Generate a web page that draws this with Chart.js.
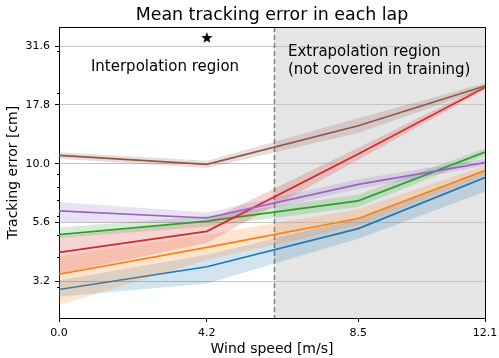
<!DOCTYPE html>
<html lang="en">
  <head>
    <meta charset="UTF-8" />
    <title>Mean tracking error in each lap</title>
    <script src="https://cdn.jsdelivr.net/npm/chart.js"></script>
    <style>
      body {
        margin: 0;
        background: #fff;
      }
      #wrap {
        width: 499px;
        height: 358px;
      }
    </style>
  </head>
  <body>
    <div id="wrap"><canvas id="chart" width="499" height="358"></canvas></div>

    <script>
      // wind speeds (x) and tick labels
      const windSpeed = [0, 4.2, 8.5, 12.1];
      const xTickLabels = ["0.0", "4.2", "8.5", "12.1"];
      const yTickValues = [3.162, 5.623, 10, 17.78, 31.62];
      const yTickLabels = ["3.2", "5.6", "10.0", "17.8", "31.6"];
      const yMinorTicks = [3, 4, 5, 6, 7, 8, 9, 20, 30];

      // mean tracking error per lap + spread band
      const blueMean = [2.92, 3.65, 5.3, 8.73];
      const blueLow = [2.72, 3.1, 4.8, 7.6];
      const blueHigh = [3.2, 4.1, 5.85, 9.4];

      const orangeMean = [3.39, 4.41, 5.85, 9.35];
      const orangeLow = [2.51, 3.9, 5.45, 8.9];
      const orangeHigh = [4.05, 5.0, 6.4, 9.8];

      const greenMean = [5.0, 5.7, 6.95, 11.2];
      const greenLow = [4.85, 5.4, 6.55, 10.8];
      const greenHigh = [5.36, 6.0, 7.4, 11.6];

      const redMean = [4.2, 5.16, 11.0, 21.1];
      const redLow = [3.4, 4.6, 10.4, 20.6];
      const redHigh = [4.9, 5.7, 11.7, 21.6];

      const purpleMean = [6.3, 5.88, 8.17, 10.1];
      const purpleLow = [5.65, 5.6, 7.8, 9.8];
      const purpleHigh = [6.87, 6.2, 8.6, 10.5];

      const brownMean = [10.84, 9.94, 14.5, 21.4];
      const brownLow = [10.5, 9.6, 13.5, 20.8];
      const brownHigh = [11.2, 10.3, 15.6, 22.0];

      const extrapStart = 6.1;
      const extrapEnd = 12.1;
      const starPoint = [{ x: 4.2, y: 34.2 }];

      const series = [
        { mean: blueMean, low: blueLow, high: blueHigh, rgb: "31,119,180" },
        { mean: orangeMean, low: orangeLow, high: orangeHigh, rgb: "255,127,14" },
        { mean: greenMean, low: greenLow, high: greenHigh, rgb: "44,160,44" },
        { mean: redMean, low: redLow, high: redHigh, rgb: "214,39,40" },
        { mean: purpleMean, low: purpleLow, high: purpleHigh, rgb: "148,103,189" },
        { mean: brownMean, low: brownLow, high: brownHigh, rgb: "140,86,75" },
      ];

      const FONT = "'DejaVu Sans', sans-serif";
      Chart.defaults.font.family = FONT;
      Chart.defaults.color = "#000";

      const pts = (arr) => arr.map((v, i) => ({ x: windSpeed[i], y: v }));

      // black filled star for the marker
      function makeStar(r) {
        const c = document.createElement("canvas");
        c.width = c.height = r * 2 + 2;
        const g = c.getContext("2d");
        g.beginPath();
        for (let i = 0; i < 10; i++) {
          const rad = i % 2 === 0 ? r : r * 0.4;
          const a = -Math.PI / 2 + (i * Math.PI) / 5;
          g.lineTo(r + 1 + rad * Math.cos(a), r + 1 + rad * Math.sin(a));
        }
        g.closePath();
        g.fillStyle = "#000";
        g.fill();
        return c;
      }

      const datasets = [];
      series.forEach((s, k) => {
        const base = 100 - k * 10;
        datasets.push({
          data: pts(s.low),
          borderWidth: 0,
          pointRadius: 0,
          fill: false,
          order: base,
        });
        datasets.push({
          data: pts(s.high),
          borderWidth: 0,
          pointRadius: 0,
          backgroundColor: `rgba(${s.rgb},0.2)`,
          fill: "-1",
          order: base,
        });
        datasets.push({
          data: pts(s.mean),
          borderColor: `rgb(${s.rgb})`,
          borderWidth: 1.7,
          pointRadius: 0,
          fill: false,
          order: base - 1,
        });
      });
      datasets.push({
        data: starPoint,
        showLine: false,
        pointStyle: makeStar(6),
        pointRadius: 6,
        order: 0,
      });

      const decor = {
        id: "decor",
        beforeDraw(chart) {
          const { ctx, chartArea: a, scales } = chart;
          const x0 = scales.x.getPixelForValue(extrapStart);
          const x1 = scales.x.getPixelForValue(extrapEnd);
          ctx.save();
          ctx.fillStyle = "#e5e5e5";
          ctx.fillRect(x0, a.top, x1 - x0, a.bottom - a.top);
          ctx.restore();
        },
        beforeDatasetsDraw(chart) {
          const { ctx, chartArea: a, scales } = chart;
          const xd = Math.round(scales.x.getPixelForValue(extrapStart)) + 0.5;
          ctx.save();
          ctx.strokeStyle = "#7f7f7f";
          ctx.lineWidth = 1.5;
          ctx.setLineDash([5, 3]);
          ctx.beginPath();
          ctx.moveTo(xd, a.top);
          ctx.lineTo(xd, a.bottom);
          ctx.stroke();
          ctx.restore();
        },
        afterDraw(chart) {
          const { ctx, chartArea: a, scales } = chart;
          ctx.save();
          // top and right spines
          ctx.strokeStyle = "#000";
          ctx.lineWidth = 1;
          ctx.beginPath();
          ctx.moveTo(a.left, a.top + 0.5);
          ctx.lineTo(a.right, a.top + 0.5);
          ctx.moveTo(a.right + 0.5, a.top);
          ctx.lineTo(a.right + 0.5, a.bottom);
          ctx.stroke();
          // minor ticks on the log axis
          ctx.beginPath();
          yMinorTicks.forEach((v) => {
            const y = Math.round(scales.y.getPixelForValue(v)) + 0.5;
            ctx.moveTo(a.left, y);
            ctx.lineTo(a.left - 2, y);
          });
          ctx.stroke();

          // title + region labels
          ctx.fillStyle = "#000";
          ctx.textBaseline = "alphabetic";
          ctx.textAlign = "center";
          ctx.font = `17.4px ${FONT}`;
          ctx.fillText("Mean tracking error in each lap", (a.left + a.right) / 2, 20);
          ctx.font = `15px ${FONT}`;
          ctx.fillText("Interpolation region", 165, 71);
          ctx.textAlign = "left";
          ctx.fillText("Extrapolation region", 288, 56);
          ctx.fillText("(not covered in training)", 288, 74);
          ctx.restore();
        },
      };

      new Chart(document.getElementById("chart"), {
        type: "line",
        data: { datasets },
        options: {
          responsive: false,
          animation: false,
          layout: { padding: { top: 27, right: 14, bottom: 0, left: 0 } },
          plugins: {
            legend: { display: false },
            tooltip: { enabled: false },
            title: { display: false },
          },
          scales: {
            x: {
              type: "linear",
              min: 0,
              max: 12.1,
              afterFit: (s) => {
                s.height = 40;
                s.paddingLeft = 0;
                s.paddingRight = 0;
              },
              afterBuildTicks: (s) => {
                s.ticks = windSpeed.map((v) => ({ value: v }));
              },
              ticks: {
                autoSkip: false,
                maxRotation: 0,
                padding: 5,
                font: { size: 11 },
                callback: (v, i) => xTickLabels[i],
              },
              grid: {
                drawOnChartArea: false,
                tickLength: 4,
                tickColor: "#000",
              },
              border: { color: "#000", width: 1 },
              title: {
                display: true,
                text: "Wind speed [m/s]",
                font: { size: 14 },
                padding: { top: 0, bottom: 0 },
              },
            },
            y: {
              type: "logarithmic",
              min: 2.21,
              max: 38.1,
              afterFit: (s) => {
                s.width = 59;
                s.paddingTop = 0;
                s.paddingBottom = 0;
              },
              afterBuildTicks: (s) => {
                s.ticks = yTickValues.map((v) => ({ value: v }));
              },
              ticks: {
                autoSkip: false,
                padding: 5,
                font: { size: 11 },
                callback: (v, i) => yTickLabels[i],
              },
              grid: {
                color: "#c4c4c4",
                lineWidth: 1,
                tickLength: 4,
                tickColor: "#000",
              },
              border: { color: "#000", width: 1 },
              title: {
                display: true,
                text: "Tracking error [cm]",
                font: { size: 14 },
                padding: { top: 5, bottom: 0 },
              },
            },
          },
        },
        plugins: [decor],
      });
    </script>
  </body>
</html>
